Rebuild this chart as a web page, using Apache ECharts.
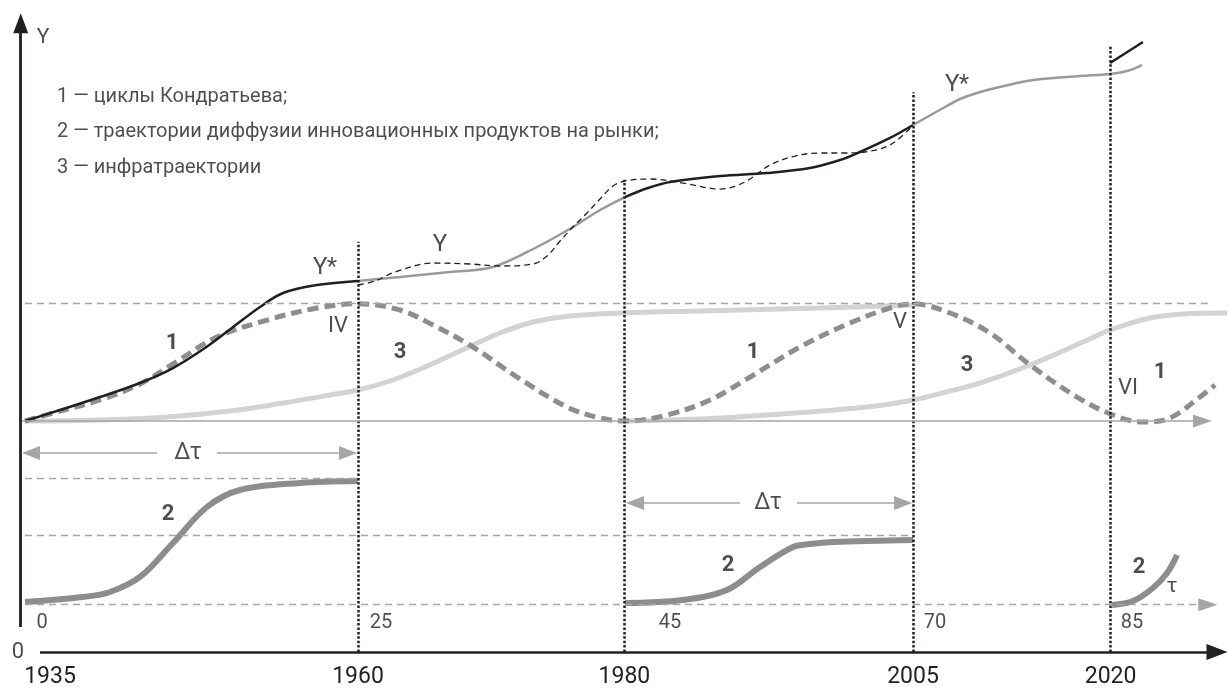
<!DOCTYPE html>
<html>
<head>
<meta charset="utf-8">
<title>Циклы Кондратьева и траектории</title>
<script src="https://cdn.jsdelivr.net/npm/echarts@6/dist/echarts.min.js"></script>
<style>
  html, body { margin: 0; padding: 0; background: #fff; }
  #chart { width: 1229px; height: 689px; }
</style>
</head>
<body>
<div id="chart"></div>
<script>
// ось времени в условных единицах τ, вертикали и подписи к ним
var markPos = [0, 25, 45, 66.67, 81.5];
var yearLabels = ['1935', '1960', '1980', '2005', '2020'];
var tauLabels = ['0', '25', '45', '70', '85'];
var markTop = [64.2, 73.9, 87.6, 95.0];   // до какого уровня доходят пунктирные вертикали

// уровни горизонтальных линий
var baseLevel = 36.15;     // нулевая линия циклов
var peakLevel = 54.6;      // уровень пиков
var diffLevels = [27.2, 18.2, 7.4];

// Y* – равновесная траектория (по участкам)
var yStarA = [[0,36.15],[2.63,37.87],[5.63,39.9],[8.63,42.1],[11.11,44.44],[13.51,47.57],[15.62,50.86],[17.64,53.99],[19.37,56.18],[21.92,57.43],[25,58.06]];
var yStarB = [[25,58.06],[28.15,58.68],[31.91,59.47],[35.14,60.25],[38.44,63.38],[41.14,66.51],[43.17,69.17],[45.05,71.2]];
var yStarC = [[45.05,71.2],[46.77,72.61],[48.42,73.55],[52.18,74.49],[55.71,74.96],[58.93,75.74],[61.19,76.99],[62.69,78.25],[64.94,80.44],[66.67,82.47]];
var yStarD = [[66.67,82.47],[69.07,85.29],[70.2,86.54],[71.47,87.48],[73.5,88.57],[75.68,89.51],[79.2,90.14],[81.46,90.45],[82.73,90.92],[83.86,91.86]];
var yStarNext = [[81.46,92.17],[83.93,95.46]];

// Y – фактическая траектория
var yActual = [[25,57.43],[26.28,58.06],[27.78,59.47],[30.63,60.88],[33.41,60.72],[35.66,60.41],[38.14,60.72],[39.19,61.97],[40.17,64.32],[41.14,66.51],[42.19,68.7],[43.17,70.89],[44.14,72.92],[45.05,73.71],[46.92,74.02],[49.4,73.39],[52.18,72.45],[54.05,73.55],[55.93,76.21],[57.81,77.62],[59.68,78.09],[61.56,78.09],[63.06,78.25],[64.94,79.34],[66.67,82.4]];

// 1 – циклы Кондратьева
var kondratiev = [[0,36.15],[2.63,37.71],[5.63,39.44],[8.63,41.94],[11.11,45.07],[14.41,49.29],[18.17,51.95],[21.92,53.83],[25,54.5],[28.15,53.52],[30.63,51.17],[33.63,47.73],[36.94,43.03],[40.69,38.34],[43.17,36.62],[45.05,36.15],[48.2,37.09],[51.43,39.44],[54.43,43.03],[58.18,47.73],[61.94,51.49],[65.17,53.99],[66.67,54.5],[69.44,53.05],[72.45,49.92],[75.45,44.91],[78.98,39.9],[81.68,37.09],[83.93,35.99],[85.96,36.62],[88.21,39.9],[89.34,41.78]];

// 3 – инфратраектории
var infraA = [[0,36.15],[5.63,36.31],[10.66,36.78],[15.39,37.71],[19.37,38.97],[22.9,40.22],[25,41.0],[27.4,42.41],[29.5,44.13],[31.53,46.01],[33.63,48.04],[35.66,49.92],[38.14,51.64],[40.92,52.58],[44.89,53.05],[50.68,53.36],[59.68,53.83],[66.67,54.3]];
var infraB = [[45.05,36.15],[50.68,36.46],[55.71,37.09],[63.21,38.34],[66.67,39.44],[69.44,40.84],[71.92,42.25],[75.45,44.91],[79.43,48.51],[81.46,50.39],[84.46,52.27],[86.94,52.89],[90.24,53.05]];

// 2 – диффузия инновационных продуктов
var diffA = [[0,7.82],[4.35,8.61],[6.38,9.39],[8.63,11.74],[11.11,17.06],[13.66,22.69],[16.14,25.35],[20.65,26.45],[25,26.76]];
var diffB = [[45.05,7.67],[49.4,8.14],[52.7,9.7],[55.18,13.3],[57.66,16.43],[58.93,16.9],[60.66,17.21],[66.67,17.53]];
var diffC = [[81.61,7.36],[83.18,7.98],[84.68,10.02],[85.74,12.36],[86.49,15.18]];

var INK = '#231f20';
var FONT = 'Roboto, "Liberation Sans", sans-serif';

function curve(name, data, color, width, type, z) {
  return {
    name: name, type: 'line', data: data, smooth: 0.35,
    showSymbol: false, symbol: 'none', silent: true, z: z,
    lineStyle: { color: color, width: width, type: type || 'solid', cap: 'butt' }
  };
}

function seg(x1, y1, x2, y2, style, arrow) {
  var to = { coord: [x2, y2] };
  if (arrow) { to.symbol = 'triangle'; to.symbolSize = arrow; }
  return [{ coord: [x1, y1], symbol: 'none', lineStyle: style }, to];
}

var greyThin = { color: '#a6a6a6', width: 1.6, type: 'solid' };
var greyDash = { color: '#a6a6a6', width: 1.3, type: [7, 5] };
var dotted = { color: INK, width: 2.5, type: [2.5, 1.9] };
var black = { color: INK, width: 2.6, type: 'solid' };

var lines = [];
for (var i = 1; i < markPos.length; i++) {
  lines.push(seg(markPos[i], 0, markPos[i], markTop[i - 1], dotted));
}
lines.push(seg(-0.3, baseLevel, 88.4, baseLevel, greyThin, [13, 19]));
lines.push(seg(0, peakLevel, 88.8, peakLevel, greyDash));
lines.push(seg(0, diffLevels[0], markPos[1], diffLevels[0], greyDash));
lines.push(seg(0, diffLevels[1], markPos[3], diffLevels[1], greyDash));
lines.push(seg(0, diffLevels[2], 88.8, diffLevels[2], greyDash, [13, 19]));
lines.push(seg(1.13, 0, 89.49, 0, black, [16, 21]));
lines.push(seg(-0.32, 3.9, -0.32, 98.4, { color: INK, width: 2.8, type: 'solid' }, [15, 20]));
// Δτ
lines.push(seg(9.91, 31.14, 0.45, 31.14, greyThin, [14, 18]));
lines.push(seg(14.41, 31.14, 24.25, 31.14, greyThin, [14, 18]));
lines.push(seg(53.68, 23.32, 45.8, 23.32, greyThin, [14, 18]));
lines.push(seg(57.96, 23.32, 65.92, 23.32, greyThin, [14, 18]));

// подписи: текст, x, y, размер, жирность, выравнивание
var notes = [
  ['Y', 1.35, 96.1, 21],
  ['1 — циклы Кондратьева;', 2.4, 86.85, 20, 'normal', 'left'],
  ['2 — траектории диффузии инновационных продуктов на рынки;', 2.4, 81.38, 20, 'normal', 'left'],
  ['3 — инфратраектории', 2.4, 75.74, 20, 'normal', 'left'],
  ['Y*', 22.52, 60.1, 24],
  ['Y', 31.16, 63.7, 24],
  ['Y*', 69.97, 88.7, 24],
  ['IV', 23.5, 50.9, 22],
  ['V', 65.69, 51.5, 22],
  ['VI', 82.81, 41.3, 22],
  ['1', 11.04, 48.35, 22, 'bold'],
  ['3', 28.15, 46.8, 22, 'bold'],
  ['1', 54.65, 46.8, 22, 'bold'],
  ['3', 70.72, 44.9, 22, 'bold'],
  ['1', 85.21, 43.8, 22, 'bold'],
  ['2', 10.74, 21.44, 22, 'bold'],
  ['2', 52.78, 13.46, 22, 'bold'],
  ['2', 83.63, 13.3, 22, 'bold'],
  ['τ', 86.11, 10.17, 21],
  ['Δτ', 12.24, 31.14, 23],
  ['Δτ', 55.78, 23.32, 23],
  ['0', -0.53, 0, 22]
];
var tauLabelX = [1.28, 26.73, 48.42, 68.32, 83.11];
for (var k = 0; k < tauLabels.length; k++) {
  notes.push([tauLabels[k], tauLabelX[k], 4.5, 20]);
}

var noteData = notes.map(function (n) {
  return {
    value: [n[1], n[2]],
    label: {
      formatter: n[0], fontSize: n[3], fontWeight: n[4] || 'normal',
      align: n[5] || 'center'
    }
  };
});

function nearestMark(v) {
  var best = 0;
  for (var j = 1; j < markPos.length; j++) {
    if (Math.abs(markPos[j] - v) < Math.abs(markPos[best] - v)) best = j;
  }
  return best;
}

var chart = echarts.init(document.getElementById('chart'));
chart.setOption({
  animation: false,
  backgroundColor: '#fff',
  textStyle: { fontFamily: FONT, color: INK },
  grid: { left: 20, right: 0, top: 13, bottom: 37 },
  xAxis: {
    type: 'value', min: -0.3754, max: 90.39,
    axisLine: { show: false }, axisTick: { show: false }, splitLine: { show: false },
    axisLabel: {
      customValues: markPos, margin: 14, fontSize: 23, color: INK, fontFamily: FONT,
      formatter: function (v) {
        var j = nearestMark(v);
        return j === 0 ? '{first|' + yearLabels[0] + '}' : yearLabels[j];
      },
      rich: { first: { padding: [0, 0, 0, 50], fontSize: 23, fontFamily: FONT, color: INK } }
    }
  },
  yAxis: { type: 'value', min: 0, max: 100, show: false },
  series: [
    curve('инфратраектории', infraA, '#d3d3d3', 5, 'solid', 2),
    curve('инфратраектории 2', infraB, '#d3d3d3', 5, 'solid', 2),
    curve('диффузия 1', diffA, '#8d8d8d', 6, 'solid', 2),
    curve('диффузия 2', diffB, '#8d8d8d', 6, 'solid', 2),
    curve('диффузия 3', diffC, '#8d8d8d', 6, 'solid', 2),
    curve('циклы Кондратьева', kondratiev, '#8e8e90', 5, [11, 6], 3),
    curve('Y* 1', yStarA, INK, 2.5, 'solid', 4),
    curve('Y* 2', yStarB, '#9a9a9a', 2.5, 'solid', 4),
    curve('Y* 3', yStarC, INK, 2.5, 'solid', 4),
    curve('Y* 4', yStarD, '#9a9a9a', 2.5, 'solid', 4),
    curve('Y* 5', yStarNext, INK, 2.5, 'solid', 4),
    curve('Y', yActual, INK, 1.3, [6, 4], 5),
    {
      name: 'линии', type: 'line', data: [], silent: true, z: 1,
      markLine: { silent: true, animation: false, symbol: ['none', 'none'], label: { show: false }, data: lines }
    },
    {
      name: 'подписи', type: 'scatter', data: noteData, symbolSize: 1, clip: false, silent: true, z: 6,
      itemStyle: { color: 'rgba(0,0,0,0)' },
      label: { show: true, position: 'inside', color: INK, fontFamily: FONT }
    }
  ]
});
</script>
</body>
</html>
